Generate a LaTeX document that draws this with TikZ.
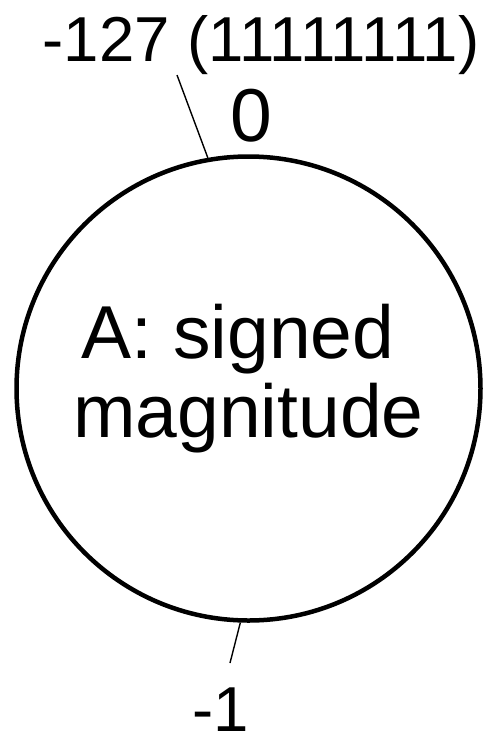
\documentclass[tikz,border=0pt]{standalone}
\usepackage{fontspec}
\setmainfont{Liberation Sans}
\begin{document}
\begin{tikzpicture}[x=1pt,y=-1pt,
  ring/.style={circle, draw, line width=4.5pt, minimum size=464pt, inner sep=0pt,
    align=center, font=\fontsize{75}{79}\selectfont, text height=140pt, text depth=43pt},
  biglabel/.style={anchor=base, inner sep=0pt, font=\fontsize{75}{79}\selectfont},
  smalllabel/.style={anchor=base, inner sep=0pt, font=\fontsize{63.5}{70}\selectfont},
  connector/.style={line width=1.4pt}]
\path[use as bounding box] (0,0) rectangle (485,737);
\node[ring] (c) at (248.5,388.5) {A: signed\hspace*{0.278em}\\magnitude};
\node[smalllabel] (top) at (261,61) {-127 (11111111)};
\node[biglabel] (zero) at (251.5,141) {0};
\node[smalllabel] (bot) at (221,731) {-1};
\coordinate (topend) at (177,75);
\coordinate (botend) at (230,663);
\draw[connector] (topend) -- (c.100);
\draw[connector] (botend) -- (c.268.4);
\end{tikzpicture}
\end{document}
